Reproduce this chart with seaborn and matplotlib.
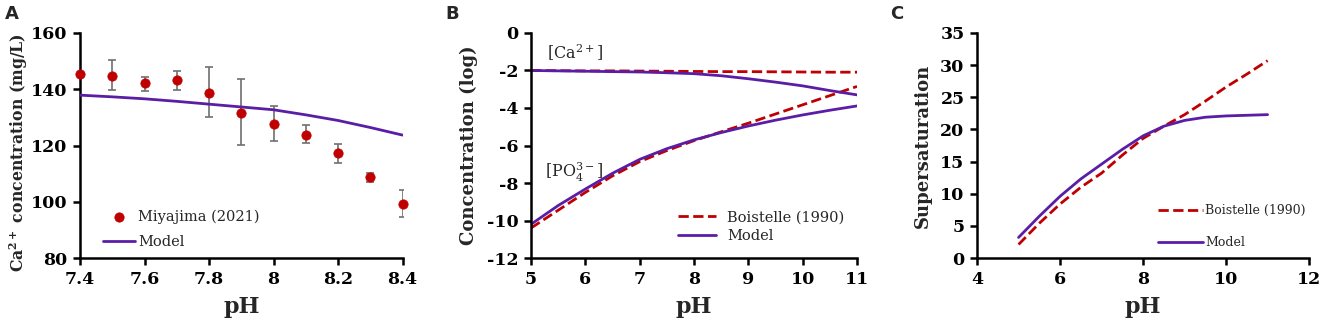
import numpy as np
import pandas as pd
import seaborn as sns
import matplotlib.pyplot as plt

# --- datos ---
# Panel A
ph_exp = [7.4, 7.5, 7.6, 7.7, 7.8, 7.9, 8.0, 8.1, 8.2, 8.3, 8.4]
ca_exp = [145.5, 144.8, 142.2, 143.2, 138.8, 131.6, 127.8, 123.9, 117.2, 108.8, 99.3]
err_up = [0.0, 5.5, 2.2, 3.2, 9.2, 11.9, 6.3, 3.3, 3.2, 1.6, 5.0]
err_dn = [0.0, 5.0, 2.8, 3.5, 8.5, 11.5, 6.2, 3.1, 3.4, 1.8, 4.6]
ph_model_a = [7.4, 7.5, 7.6, 7.7, 7.8, 7.9, 8.0, 8.1, 8.2, 8.3, 8.4]
ca_model_a = [137.9, 137.3, 136.6, 135.7, 134.7, 133.7, 132.7, 130.9, 128.9, 126.4, 123.7]

# Panel B
ph_b = [5, 5.5, 6, 6.5, 7, 7.5, 8, 8.5, 9, 9.5, 10, 10.5, 11]
ca_boist = [-2.0, -2.01, -2.02, -2.02, -2.03, -2.04, -2.05, -2.06, -2.06, -2.07, -2.08, -2.09, -2.09]
ca_model_b = [-2.0, -2.02, -2.04, -2.06, -2.08, -2.12, -2.17, -2.28, -2.44, -2.62, -2.82, -3.07, -3.3]
po4_boist = [-10.4, -9.45, -8.5, -7.62, -6.86, -6.27, -5.74, -5.27, -4.81, -4.32, -3.83, -3.34, -2.85]
po4_model_b = [-10.2, -9.2, -8.32, -7.48, -6.74, -6.17, -5.7, -5.31, -4.96, -4.65, -4.37, -4.12, -3.89]

# Panel C
ph_c = [5, 5.5, 6, 6.5, 7, 7.5, 8, 8.5, 9, 9.5, 10, 10.5, 11]
ss_boist = [2.1, 5.4, 8.4, 11.0, 13.2, 16.0, 18.6, 20.5, 22.3, 24.4, 26.6, 28.6, 30.7]
ss_model = [3.2, 6.5, 9.6, 12.3, 14.6, 16.9, 19.0, 20.5, 21.4, 21.9, 22.1, 22.2, 22.3]

ROJO = '#c00000'
MORADO = '#5a1ea6'

sns.set_theme(style='ticks')
plt.rcParams['font.family'] = ['DejaVu Serif']
plt.rcParams['axes.unicode_minus'] = False
plt.rcParams['mathtext.fontset'] = 'dejavuserif'

fig = plt.figure(figsize=(13.25, 3.28), dpi=100)
ax_a = fig.add_axes([0.0604, 0.2134, 0.2434, 0.686])
ax_b = fig.add_axes([0.4008, 0.2134, 0.246, 0.686])
ax_c = fig.add_axes([0.7374, 0.2134, 0.2506, 0.686])


def estilo(ax):
    sns.despine(ax=ax)
    for s in ['left', 'bottom']:
        ax.spines[s].set_linewidth(1.8)
        ax.spines[s].set_color('black')
    ax.tick_params(axis='both', direction='out', length=5, width=1.8,
                   labelsize=12.5, colors='black', pad=4)
    for lab in ax.get_xticklabels() + ax.get_yticklabels():
        lab.set_fontweight('bold')
    ax.set_xlabel('pH', fontsize=16, fontweight='bold', labelpad=6)


# --- Panel A ---
df_a = pd.DataFrame({'ph': ph_exp, 'ca': ca_exp})
ax_a.errorbar(ph_exp, ca_exp, yerr=[err_dn, err_up], fmt='none', ecolor='#707070',
              elinewidth=1.2, capsize=3, capthick=1.2, zorder=2)
sns.lineplot(x=ph_model_a, y=ca_model_a, ax=ax_a, color=MORADO, lw=2, label='Model', zorder=3)
sns.scatterplot(data=df_a, x='ph', y='ca', ax=ax_a, color=ROJO, s=45, edgecolor=ROJO,
                label='Miyajima (2021)', zorder=4, clip_on=False)
ax_a.set_xlim(7.4, 8.4)
ax_a.set_ylim(80, 160)
ax_a.set_xticks([7.4, 7.6, 7.8, 8.0, 8.2, 8.4])
ax_a.set_xticklabels(['7.4', '7.6', '7.8', '8', '8.2', '8.4'])
ax_a.set_yticks([80, 100, 120, 140, 160])
ax_a.set_ylabel(r'Ca$^{\mathbf{2+}}$ concentration (mg/L)', fontsize=11.3, fontweight='bold', labelpad=1)
ax_a.yaxis.set_label_coords(-0.155, 0.47)
h, l = ax_a.get_legend_handles_labels()
ax_a.legend(h[::-1], l[::-1], loc='lower left', bbox_to_anchor=(0.03, -0.02), frameon=False,
            fontsize=10.5, handlelength=2.2, labelspacing=0.8, handletextpad=0.2)
estilo(ax_a)

# --- Panel B ---
sns.lineplot(x=ph_b, y=ca_boist, ax=ax_b, color=ROJO, lw=2, ls='--', label='Boistelle (1990)')
sns.lineplot(x=ph_b, y=po4_boist, ax=ax_b, color=ROJO, lw=2, ls='--')
sns.lineplot(x=ph_b, y=ca_model_b, ax=ax_b, color=MORADO, lw=2, label='Model')
sns.lineplot(x=ph_b, y=po4_model_b, ax=ax_b, color=MORADO, lw=2)
ax_b.set_xlim(5, 11)
ax_b.set_ylim(-12, 0)
ax_b.set_xticks(range(5, 12))
ax_b.set_yticks(range(-12, 1, 2))
ax_b.set_ylabel('Concentration (log)', fontsize=13, fontweight='bold', labelpad=6)
ax_b.text(5.3, -1.05, r'[Ca$^{2+}$]', fontsize=11.5, va='center')
ax_b.text(5.25, -7.45, r'[PO$_4^{3-}$]', fontsize=11.5, va='center')
ax_b.legend(loc='lower left', bbox_to_anchor=(0.41, 0.01), frameon=False,
            fontsize=10.5, handlelength=2.6, labelspacing=0.3, handletextpad=0.8)
estilo(ax_b)

# --- Panel C ---
sns.lineplot(x=ph_c, y=ss_boist, ax=ax_c, color=ROJO, lw=2, ls='--', label='Boistelle (1990)')
sns.lineplot(x=ph_c, y=ss_model, ax=ax_c, color=MORADO, lw=2, label='Model')
ax_c.set_xlim(4, 12)
ax_c.set_ylim(0, 35)
ax_c.set_xticks(range(4, 13, 2))
ax_c.set_yticks(range(0, 36, 5))
ax_c.set_ylabel('Supersaturation', fontsize=13, fontweight='bold', labelpad=6)
ax_c.legend(loc='lower left', bbox_to_anchor=(0.51, -0.01), frameon=False,
            fontsize=9, handlelength=3.6, labelspacing=1.5, handletextpad=0.2)
estilo(ax_c)

for letra, xpos in [('A', 0.004), ('B', 0.336), ('C', 0.672)]:
    fig.text(xpos, 0.985, letra, fontsize=13, fontweight='bold', family='DejaVu Sans', va='top')

fig.savefig('out.png', dpi=100)
